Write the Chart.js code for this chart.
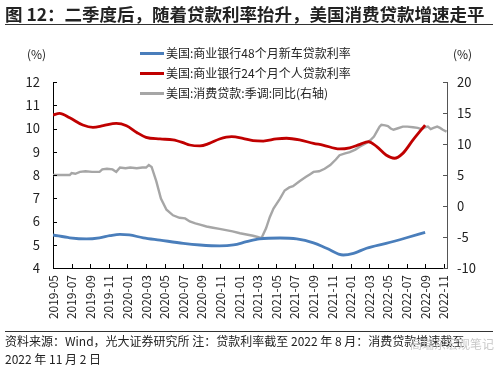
<!DOCTYPE html>
<html>
<head>
<meta charset="utf-8">
<script src="https://cdn.jsdelivr.net/npm/chart.js@4"></script>
<style>
  body { margin: 0; background: #fff; font-family: "Noto Sans CJK SC", "Noto Sans", sans-serif; color: #222; }
  #wrap { position: relative; width: 500px; height: 370px; overflow: hidden; }
  #chart { position: absolute; left: 0; top: 0; }
  .abs { position: absolute; white-space: nowrap; }
  #title { left: 5px; top: 1px; font-size: 17.5px; font-weight: bold; color: #222; }
  .rule { position: absolute; left: 5px; width: 488px; height: 1px; background: #333; }
  .unit { font-size: 12px; top: 45px; }
  .leg { font-size: 12px; left: 140px; height: 16px; line-height: 16px; }
  .leg i { display: inline-block; width: 24px; height: 3px; vertical-align: middle; margin-right: 2px; margin-top: -2px; }
  .foot { font-size: 12px; left: 5px; color: #222; }
  #mark { font-size: 12px; color: #c9c9c9; left: 410px; top: 335px; }
</style>
</head>
<body>
<div id="wrap">
  <canvas id="chart" width="500" height="370"></canvas>
  <div id="title" class="abs">图 12：二季度后，随着贷款利率抬升，美国消费贷款增速走平</div>
  <div class="rule" style="top:24px"></div>
  <div class="abs unit" style="left:27px">(%)</div>
  <div class="abs unit" style="left:453px">(%)</div>
  <div class="abs leg" style="top:45px"><i style="background:#4a7ebb"></i>美国:商业银行48个月新车贷款利率</div>
  <div class="abs leg" style="top:65px"><i style="background:#c00000"></i>美国:商业银行24个月个人贷款利率</div>
  <div class="abs leg" style="top:85px"><i style="background:#a6a6a6"></i>美国:消费贷款:季调:同比(右轴)</div>
  <div class="rule" style="top:331px"></div>
  <div class="abs foot" style="top:332px">资料来源：Wind，光大证券研究所 注：贷款利率截至 2022 年 8 月：消费贷款增速截至</div>
  <div class="abs foot" style="top:350px">2022 年 11 月 2 日</div>
  <div id="mark" class="abs">高瑞东宏观笔记</div>
</div>
<script>
// 月份序号：0 = 2019-05，每个刻度间隔 2 个月
const xTickLabels = ['2019-05', '2019-07', '2019-09', '2019-11', '2020-01', '2020-03', '2020-05', '2020-07',
    '2020-09', '2020-11', '2021-01', '2021-03', '2021-05', '2021-07', '2021-09', '2021-11',
    '2022-01', '2022-03', '2022-05', '2022-07', '2022-09', '2022-11'];

// 48个月新车贷款利率（左轴）
const carMonths = [0, 1.8, 3.6, 5.0, 6.1, 7.2, 8.2, 9.7, 11.5, 14.0, 15.8, 17.9, 19.4, 20.8, 22.2, 24.4,
    26.2, 28.0, 29.4, 31.2, 32.3, 33.7, 35.8, 38.0, 40.0];
const carRate = [5.42, 5.30, 5.25, 5.30, 5.39, 5.45, 5.42, 5.30, 5.20, 5.06, 4.99, 4.95, 4.99, 5.13, 5.25, 5.29,
    5.25, 5.08, 4.85, 4.56, 4.63, 4.85, 5.06, 5.30, 5.53];

// 24个月个人贷款利率（左轴）
const personalMonths = [0, 0.7, 1.8, 3.2, 4.3, 5.4, 6.8, 7.9, 9.0, 10.0, 11.5, 12.9, 14.0, 14.7, 15.8, 16.8,
    17.9, 19.2, 20.4, 21.5, 22.6, 24.0, 25.1, 26.5, 28.0, 29.0, 30.8, 31.9, 33.0, 33.9, 34.8, 35.8,
    36.7, 37.6, 38.7, 40.0];
const personalRate = [10.58, 10.65, 10.46, 10.15, 10.05, 10.12, 10.22, 10.12, 9.83, 9.62, 9.55, 9.51, 9.39, 9.29, 9.25, 9.36,
    9.55, 9.65, 9.58, 9.48, 9.46, 9.55, 9.58, 9.51, 9.36, 9.29, 9.12, 9.17, 9.32, 9.43, 9.22, 8.86,
    8.72, 8.93, 9.51, 10.15];

// 消费贷款季调同比（右轴）
const consumerMonths = [0, 1.0, 1.8, 2.0, 2.4, 2.9, 3.5, 4.2, 5.0, 5.3, 5.8, 6.4, 6.8, 7.2, 7.8, 8.3,
    9.0, 9.6, 10.0, 10.3, 10.6, 11.1, 11.6, 12.2, 12.9, 13.6, 14.2, 14.7, 15.3, 15.8, 16.5, 17.2,
    17.9, 18.6, 19.3, 20.1, 20.8, 21.5, 22.0, 22.4, 22.9, 23.3, 23.7, 24.4, 24.9, 25.4, 25.8, 26.5,
    27.2, 27.6, 28.0, 28.6, 29.2, 29.8, 30.4, 30.8, 31.4, 31.9, 32.5, 33.0, 33.6, 34.1, 34.5, 34.8,
    35.1, 35.3, 35.7, 36.0, 36.3, 36.6, 37.0, 37.6, 38.1, 38.7, 39.2, 39.6, 40.0, 40.3, 40.6, 40.9,
    41.3, 41.6, 41.9, 42.3];
const consumerYoY = [5.0, 5.0, 5.0, 5.3, 5.2, 5.5, 5.6, 5.5, 5.5, 5.9, 6.0, 5.9, 5.5, 6.2, 6.1, 6.2,
    6.1, 6.2, 6.2, 6.6, 6.3, 4.0, 1.2, -0.6, -1.5, -1.9, -2.0, -2.5, -2.8, -3.0, -3.3, -3.5,
    -3.7, -3.9, -4.1, -4.4, -4.6, -4.8, -5.0, -5.2, -3.6, -1.8, -0.4, 1.2, 2.5, 3.0, 3.2, 4.0,
    4.7, 5.1, 5.5, 5.6, 6.0, 6.6, 7.5, 8.2, 8.5, 8.7, 9.1, 9.6, 10.1, 10.6, 11.2, 12.0,
    12.8, 13.1, 13.0, 12.9, 12.5, 12.3, 12.5, 12.8, 12.8, 12.7, 12.6, 12.4, 12.7, 12.8, 12.4, 12.6,
    12.8, 12.6, 12.3, 12.0];

const zip = (xs, ys) => xs.map((x, i) => ({ x: x, y: ys[i] }));
const FONT = '"Noto Sans CJK SC", "Noto Sans", sans-serif';

// 刻度线画在坐标轴内侧
const innerTicks = {
    id: 'innerTicks',
    afterDraw(chart) {
        const { ctx, chartArea: a, scales } = chart;
        ctx.save();
        ctx.lineWidth = 1;
        ctx.strokeStyle = '#000';
        ctx.beginPath();
        scales.x.ticks.forEach(t => {
            const px = Math.round(scales.x.getPixelForValue(t.value)) + 0.5;
            ctx.moveTo(px, a.bottom); ctx.lineTo(px, a.bottom - 4);
        });
        scales.yL.ticks.forEach(t => {
            const py = Math.round(scales.yL.getPixelForValue(t.value)) + 0.5;
            ctx.moveTo(a.left, py); ctx.lineTo(a.left + 4, py);
        });
        ctx.stroke();
        ctx.strokeStyle = '#555';
        ctx.beginPath();
        scales.yR.ticks.forEach(t => {
            const py = Math.round(scales.yR.getPixelForValue(t.value)) + 0.5;
            ctx.moveTo(a.right, py); ctx.lineTo(a.right - 4, py);
        });
        ctx.stroke();
        ctx.restore();
    }
};

new Chart(document.getElementById('chart').getContext('2d'), {
    type: 'line',
    data: {
        datasets: [
            { label: '美国:商业银行48个月新车贷款利率', data: zip(carMonths, carRate), yAxisID: 'yL',
              borderColor: '#4a7ebb', borderWidth: 2.8, pointRadius: 0, cubicInterpolationMode: 'monotone' },
            { label: '美国:商业银行24个月个人贷款利率', data: zip(personalMonths, personalRate), yAxisID: 'yL',
              borderColor: '#c00000', borderWidth: 2.8, pointRadius: 0, cubicInterpolationMode: 'monotone' },
            { label: '美国:消费贷款:季调:同比(右轴)', data: zip(consumerMonths, consumerYoY), yAxisID: 'yR',
              borderColor: '#a6a6a6', borderWidth: 2.4, pointRadius: 0, tension: 0 }
        ]
    },
    options: {
        responsive: false,
        animation: false,
        layout: { padding: { top: 82, left: 0, right: 0, bottom: 0 } },
        plugins: { legend: { display: false }, tooltip: { enabled: false } },
        scales: {
            x: {
                type: 'linear', min: 0, max: 42.35,
                grid: { display: false, drawTicks: false },
                border: { display: true, color: '#000', width: 1 },
                afterBuildTicks: s => { s.ticks = xTickLabels.map((_, i) => ({ value: i * 2 })); },
                afterFit: s => { s.height = 102; },
                ticks: {
                    autoSkip: false, minRotation: 90, maxRotation: 90, padding: 7,
                    color: '#222', font: { family: FONT, size: 12 },
                    callback: v => xTickLabels[Math.round(v / 2)]
                }
            },
            yL: {
                position: 'left', min: 4, max: 12,
                grid: { display: false, drawTicks: false },
                border: { display: true, color: '#000', width: 1 },
                afterFit: s => { s.width = 53; },
                ticks: { stepSize: 1, padding: 13, color: '#222', font: { family: FONT, size: 13 } }
            },
            yR: {
                position: 'right', min: -10, max: 20,
                grid: { display: false, drawTicks: false },
                border: { display: true, color: '#555', width: 1 },
                afterFit: s => { s.width = 53; },
                ticks: { stepSize: 5, padding: 10, color: '#222', font: { family: FONT, size: 13 } }
            }
        }
    },
    plugins: [innerTicks]
});
</script>
</body>
</html>
